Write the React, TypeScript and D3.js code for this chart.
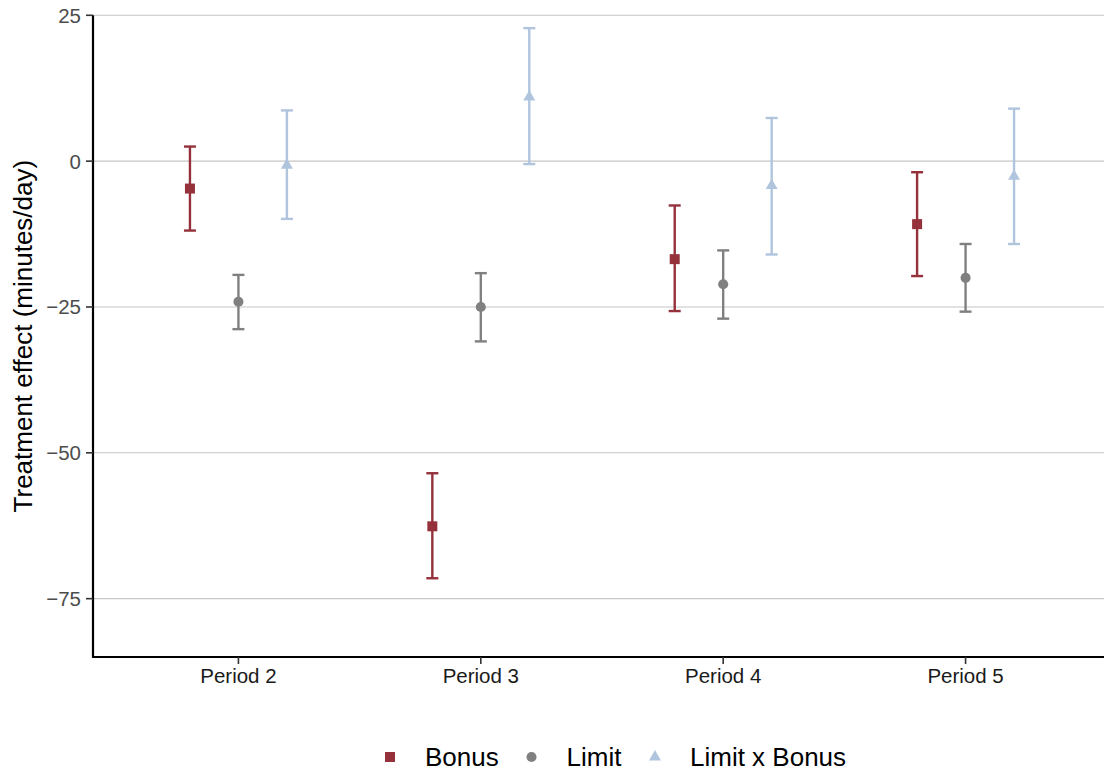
import React from "react";
import * as d3 from "d3";

const periods = ["Period 2", "Period 3", "Period 4", "Period 5"];
const seriesNames = ["Bonus", "Limit", "Limit x Bonus"];

const bonusEst = [-4.7, -62.6, -16.8, -10.8];
const bonusLo = [-11.9, -71.5, -25.7, -19.7];
const bonusHi = [2.5, -53.5, -7.6, -1.9];

const limitEst = [-24.1, -25.0, -21.1, -20.0];
const limitLo = [-28.8, -30.9, -27.0, -25.8];
const limitHi = [-19.5, -19.2, -15.3, -14.2];

const lxbEst = [-0.7, 11.0, -4.2, -2.6];
const lxbLo = [-9.9, -0.5, -16.0, -14.2];
const lxbHi = [8.7, 22.8, 7.4, 9.0];

const yTicks = [25, 0, -25, -50, -75];

const W = 1104;
const H = 774;
const FONT = "'Liberation Sans', Arial, Helvetica, sans-serif";

const colors = ["#94313b", "#808080", "#b0c4de"];
const symbols = [d3.symbolSquare, d3.symbolCircle, d3.symbolTriangle];
const symSizes = [100, 80, 62];

export default function App() {
  const x = d3.scalePoint<string>().domain(periods).range([93, 1111]).padding(0.6);
  const y = d3.scaleLinear().domain([-85, 25]).range([657, 15.3]);
  const step = x.step();
  const offsets = [-0.2 * step, 0, 0.2 * step];

  const series = [
    { est: bonusEst, lo: bonusLo, hi: bonusHi },
    { est: limitEst, lo: limitLo, hi: limitHi },
    { est: lxbEst, lo: lxbLo, hi: lxbHi },
  ];

  const capHalf = 6;
  const legendX = [390, 531.5, 655];
  const legendTextX = [425, 566.5, 690];
  const legendY = 757;
  const ebw = 2.4;

  return (
    <svg
      width={W}
      height={H}
      style={{ position: "fixed", left: 0, top: 0, background: "#fff" }}
      fontFamily={FONT}
    >
      <rect x={0} y={0} width={W} height={H} fill="#fff" />
      {/* gridlines */}
      {yTicks.map((t) => (
        <line key={"g" + t} x1={93} x2={W} y1={y(t)} y2={y(t)} stroke="#c6c6c6" strokeWidth={1.1} />
      ))}
      {/* error bars and points */}
      {series.map((s, si) =>
        periods.map((p, i) => {
          const cx = (x(p) as number) + offsets[si];
          const path = d3.symbol().type(symbols[si]).size(symSizes[si])() as string;
          return (
            <g key={si + "-" + i}>
              <line x1={cx} x2={cx} y1={y(s.lo[i])} y2={y(s.hi[i])} stroke={colors[si]} strokeWidth={ebw} />
              <line x1={cx - capHalf} x2={cx + capHalf} y1={y(s.lo[i])} y2={y(s.lo[i])} stroke={colors[si]} strokeWidth={ebw} />
              <line x1={cx - capHalf} x2={cx + capHalf} y1={y(s.hi[i])} y2={y(s.hi[i])} stroke={colors[si]} strokeWidth={ebw} />
              <path d={path} transform={`translate(${cx},${y(s.est[i])})`} fill={colors[si]} />
            </g>
          );
        })
      )}
      {/* axes */}
      <line x1={93} x2={93} y1={y(25)} y2={657} stroke="#000" strokeWidth={2.2} />
      <line x1={92} x2={W} y1={657} y2={657} stroke="#000" strokeWidth={2.2} />
      {yTicks.map((t) => (
        <g key={"t" + t}>
          <line x1={86} x2={93} y1={y(t)} y2={y(t)} stroke="#333" strokeWidth={1.6} />
          <text x={81} y={y(t)} dy="0.36em" textAnchor="end" fontSize={20.5} fill="#4d4d4d">
            {t < 0 ? "\u2212" + Math.abs(t) : String(t)}
          </text>
        </g>
      ))}
      {periods.map((p) => (
        <g key={"x" + p}>
          <line x1={x(p)} x2={x(p)} y1={657} y2={664} stroke="#333" strokeWidth={1.6} />
          <text x={x(p)} y={683} textAnchor="middle" fontSize={20.5} fill="#1a1a1a">
            {p}
          </text>
        </g>
      ))}
      <text
        transform={`translate(32,${(y(25) + 657) / 2}) rotate(-90)`}
        textAnchor="middle"
        fontSize={26}
        fill="#000"
      >
        Treatment effect (minutes/day)
      </text>
      {/* legend */}
      {seriesNames.map((n, si) => (
        <g key={"l" + n}>
          <path
            d={d3.symbol().type(symbols[si]).size(symSizes[si])() as string}
            transform={`translate(${legendX[si]},${legendY})`}
            fill={colors[si]}
          />
          <text x={legendTextX[si]} y={legendY} dy="0.36em" fontSize={26} fill="#000">
            {n}
          </text>
        </g>
      ))}
    </svg>
  );
}
